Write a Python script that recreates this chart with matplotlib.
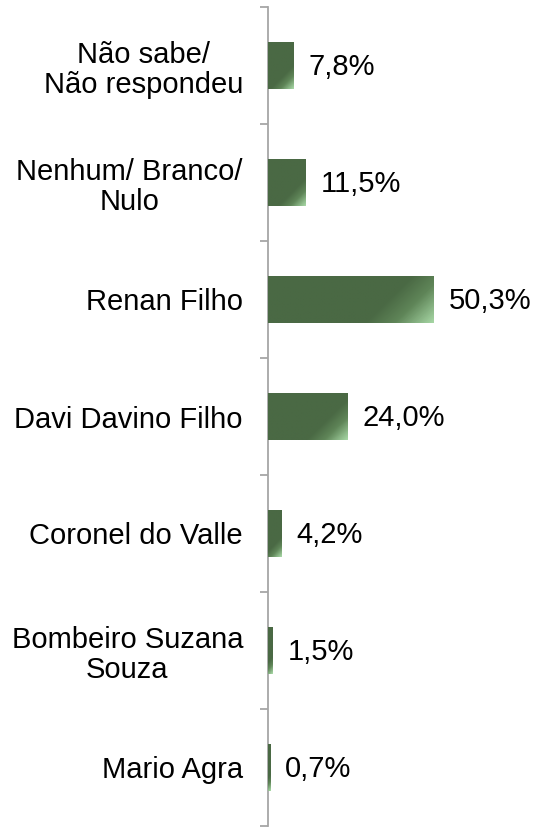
import numpy as np
import matplotlib
matplotlib.use("Agg")
import matplotlib.pyplot as plt
from matplotlib.colors import LinearSegmentedColormap

categories = ["Não sabe/\nNão respondeu", "Nenhum/ Branco/\nNulo", "Renan Filho",
              "Davi Davino Filho", "Coronel do Valle", "Bombeiro Suzana\nSouza", "Mario Agra"]
values = [7.8, 11.5, 50.3, 24.0, 4.2, 1.5, 0.7]

plt.rcParams['font.family'] = ['Liberation Sans', 'DejaVu Sans']

W, H, DPI = 5.37, 8.27, 100
fig = plt.figure(figsize=(W, H), dpi=DPI)
ax_left, ax_bottom = 268 / 537, 1 - 826 / 827
ax_w, ax_h = 264 / 537, (826 - 7) / 827
ax = fig.add_axes([ax_left, ax_bottom, ax_w, ax_h])

xmax = 80.0
n = len(categories)
y = np.arange(n)
bar_h = 0.40
px_per_x = ax_w * W * DPI / xmax
px_per_y = ax_h * H * DPI / n

cmap = LinearSegmentedColormap.from_list(
    "g", [(0.0, "#4a6944"), (0.68, "#4a6944"), (0.82, "#5f8558"), (1.0, "#a6d6a4")])

bars = ax.barh(y, values, height=bar_h, color="#4a6944", edgecolor="none", zorder=2)
for bar, v, yc in zip(bars, values, y):
    wpx = max(v * px_per_x, 1)
    hpx = bar_h * px_per_y
    nx = max(int(wpx), 2)
    ny = max(int(hpx), 2)
    xs = np.linspace(0, wpx, nx)
    ys = np.linspace(0, hpx, ny)
    X, Y = np.meshgrid(xs, ys)
    t = (X + Y) / (wpx + hpx)
    im = ax.imshow(t, cmap=cmap, vmin=0, vmax=1, origin='upper', aspect='auto',
                   extent=(0, v, yc + bar_h / 2, yc - bar_h / 2), zorder=3,
                   interpolation='bilinear')
    im.set_clip_path(bar)

for v, yc in zip(values, y):
    ax.annotate(f"{v:.1f}".replace('.', ',') + '%', xy=(v, yc), xytext=(15 * 72 / DPI, -1),
                textcoords='offset points', ha='left', va='center', fontsize=21, color='black')

ax.set_xlim(0, xmax)
ax.set_ylim(n - 0.5, -0.5)
ax.set_yticks(y)
ax.set_yticklabels(categories, fontsize=21, linespacing=1.12)
for lab in ax.get_yticklabels():
    lab.set_multialignment('center')
ax.set_yticks(np.arange(n + 1) - 0.5, minor=True)
ax.tick_params(axis='y', which='major', length=0, pad=18)
ax.tick_params(axis='y', which='minor', length=8 * 72 / DPI, width=1.3, color='#a6a6a6')
ax.set_xticks([])
for s in ['top', 'right', 'bottom']:
    ax.spines[s].set_visible(False)
ax.spines['left'].set_color('#a6a6a6')
ax.spines['left'].set_linewidth(1.3)
ax.patch.set_alpha(0)

fig.savefig("out.png", dpi=DPI)
